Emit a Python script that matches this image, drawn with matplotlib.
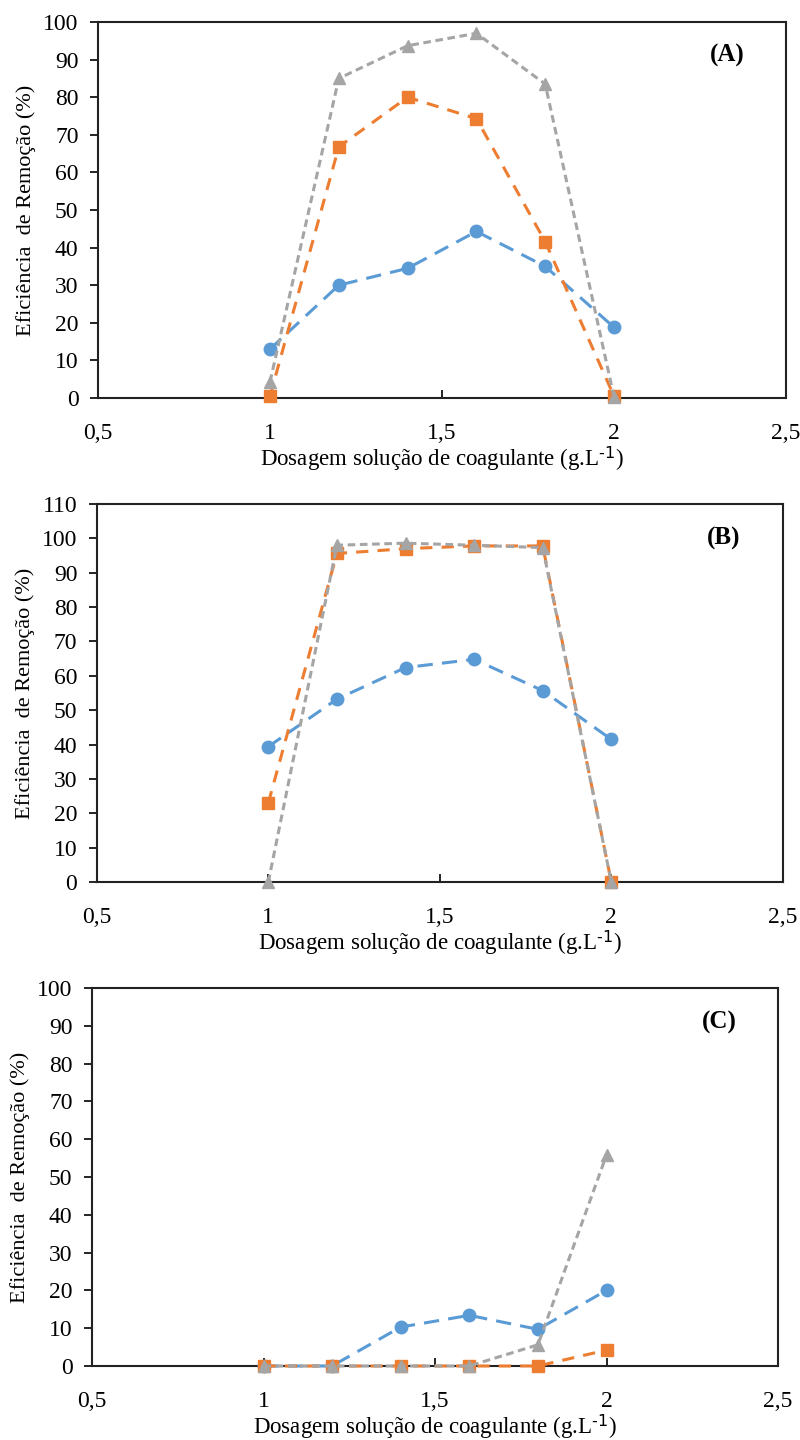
import numpy as np
from matplotlib import pyplot as plt

plt.rcParams['font.family'] = ['Liberation Serif', 'DejaVu Serif']
plt.rcParams['mathtext.default'] = 'regular'

dosagem = [1.0, 1.2, 1.4, 1.6, 1.8, 2.0]

# (A)
a_blue = [13, 30, 34.5, 44.3, 35, 18.8]
a_orange = [0.5, 66.8, 80, 74.3, 41.6, 0.5]
a_gray = [4.3, 85, 93.7, 97, 83.5, 0.3]

# (B)
b_blue = [39.4, 53.2, 62.4, 64.8, 55.7, 41.5]
b_orange = [23, 95.6, 97, 97.8, 97.8, 0]
b_gray = [0, 98, 98.6, 98, 97.3, 0]

# (C)
c_blue = [0, 0, 10.3, 13.4, 9.7, 20]
c_orange = [0, 0, 0, 0, 0, 4.2]
c_gray = [0, 0, 0, 0, 5.6, 55.8]

xticks = [0.5, 1.0, 1.5, 2.0, 2.5]
xticklabels = ["0,5", "1", "1,5", "2", "2,5"]

blue = "#5B9BD5"
orange = "#ED7D31"
gray = "#A5A5A5"

panels = [
    ("(A)", a_blue, a_orange, a_gray, 100, [0.1225, 0.7236, 0.86, 0.2611]),
    ("(B)", b_blue, b_orange, b_gray, 110, [0.121, 0.3875, 0.8575, 0.2625]),
    ("(C)", c_blue, c_orange, c_gray, 100, [0.115, 0.0514, 0.8575, 0.2625]),
]

fig = plt.figure(figsize=(8, 14.4), dpi=100)

for label, yb, yo, yg, ymax, pos in panels:
    ax = fig.add_axes(pos)
    ax.plot(dosagem, yb, color=blue, linestyle=(0, (5, 3)), linewidth=2.2,
            marker='o', markersize=9, clip_on=False, zorder=3)
    ax.plot(dosagem, yo, color=orange, linestyle=(0, (4, 3)), linewidth=2.2,
            marker='s', markersize=9, clip_on=False, zorder=4)
    ax.plot(dosagem, yg, color=gray, linestyle=(0, (2.5, 1.5)), linewidth=2.2,
            marker='^', markersize=9, clip_on=False, zorder=5)
    ax.set_xlim(0.5, 2.5)
    ax.set_ylim(0, ymax)
    ax.set_xticks(xticks)
    ax.set_xticklabels(xticklabels)
    ax.set_yticks(np.arange(0, ymax + 1, 10))
    ax.tick_params(axis='x', direction='in', length=6, width=1.2, labelsize=17, pad=18)
    ax.tick_params(axis='y', direction='out', length=6, width=1.2, labelsize=17, pad=8)
    for s in ax.spines.values():
        s.set_linewidth(1.5)
        s.set_color('#222222')
    ax.set_xlabel("Dosagem solução de coagulante (g.L$^{\\text{-1}}$)", fontsize=16.5, labelpad=0)
    ax.set_ylabel("Eficiência  de Remoção (%)", fontsize=16, labelpad=5)
    ax.text(0.914, 0.91, label, transform=ax.transAxes, ha='center', va='center',
            fontsize=18, fontweight='bold')

plt.savefig("out.png", dpi=100)
